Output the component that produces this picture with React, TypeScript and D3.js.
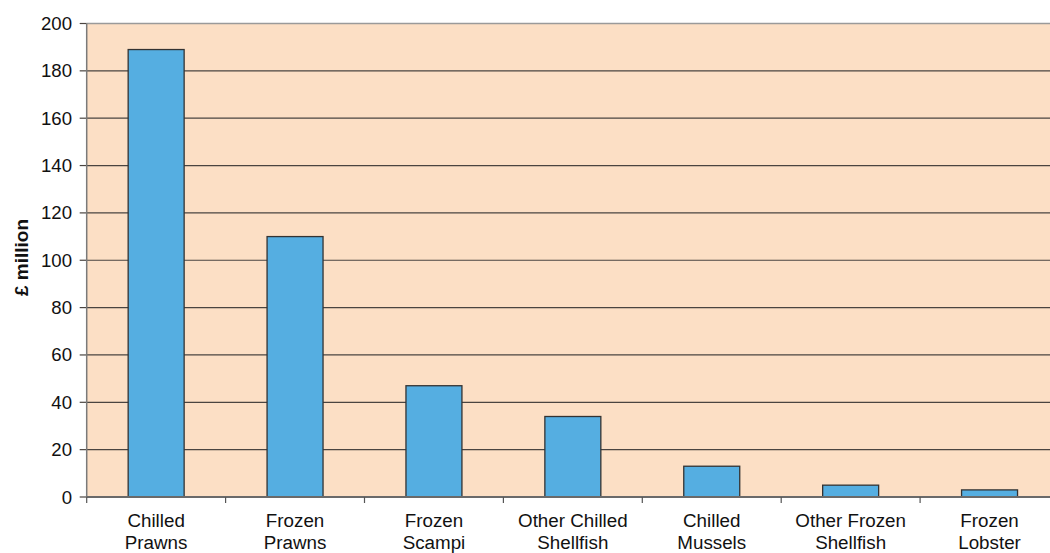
import React from "react";
import * as d3 from "d3";

const categories: string[][] = [
  ["Chilled", "Prawns"],
  ["Frozen", "Prawns"],
  ["Frozen", "Scampi"],
  ["Other Chilled", "Shellfish"],
  ["Chilled", "Mussels"],
  ["Other Frozen", "Shellfish"],
  ["Frozen", "Lobster"],
];
const values: number[] = [189, 110, 47, 34, 13, 5, 3];
const yTicks: number[] = [0, 20, 40, 60, 80, 100, 120, 140, 160, 180, 200];
const yLabel = "£ million";

const W = 1050;
const H = 553;
const left = 86.7;
const right = 1059;
const top = 23.5;
const bottom = 497;
const font = "Liberation Sans, Arial, Helvetica, sans-serif";

export default function App() {
  const keys = categories.map((c) => c.join(" "));
  const x = d3.scaleBand<string>().domain(keys).range([left, right]).padding(0);
  const y = d3.scaleLinear().domain([0, 200]).range([bottom, top]);
  const bw = x.bandwidth();
  const barW = bw * 0.403;
  return (
    <svg width={W} height={H} style={{ position: "absolute", left: 0, top: 0, display: "block" }}>
      <rect x={left} y={top} width={right - left} height={bottom - top} fill="#FCDFC5" />
      {yTicks.map((t) => (
        <g key={t}>
          {t > 0 && t < 200 && (
            <line x1={left} x2={right} y1={y(t)} y2={y(t)} stroke="#4a4440" strokeWidth={1.2} />
          )}
          <line x1={left - 7} x2={left} y1={y(t)} y2={y(t)} stroke="#4a4440" strokeWidth={1.2} />
          <text x={72} y={y(t)} dy="0.35em" textAnchor="end" fontFamily={font} fontSize={18.6} fill="#111">
            {t}
          </text>
        </g>
      ))}
      <line x1={left} x2={right} y1={top} y2={top} stroke="#9a9a9a" strokeWidth={1.5} />
      {keys.map((k, i) => (
        <rect
          key={k}
          x={x(k)! + (bw - barW) / 2}
          y={y(values[i])}
          width={barW}
          height={bottom - y(values[i])}
          fill="#55AEE1"
          stroke="#333"
          strokeWidth={1.3}
        />
      ))}
      <line x1={left} x2={left} y1={top} y2={bottom} stroke="#7a7a7a" strokeWidth={1.5} />
      <line x1={left} x2={right} y1={bottom} y2={bottom} stroke="#6a6a6a" strokeWidth={1.8} />
      {keys.map((k) => (
        <line key={"t" + k} x1={x(k)!} x2={x(k)!} y1={bottom} y2={bottom + 6} stroke="#555" strokeWidth={1.2} />
      ))}
      {keys.map((k, i) => (
        <text key={"l" + k} x={x(k)! + bw / 2} textAnchor="middle" fontFamily={font} fontSize={18.8} fill="#111">
          <tspan x={x(k)! + bw / 2} y={527}>{categories[i][0]}</tspan>
          <tspan x={x(k)! + bw / 2} y={548.5}>{categories[i][1]}</tspan>
        </text>
      ))}
      <text
        transform={`translate(28,${257.5}) rotate(-90)`}
        textAnchor="middle"
        fontFamily={font}
        fontSize={19}
        fontWeight="bold"
        fill="#111"
      >
        {yLabel}
      </text>
    </svg>
  );
}
